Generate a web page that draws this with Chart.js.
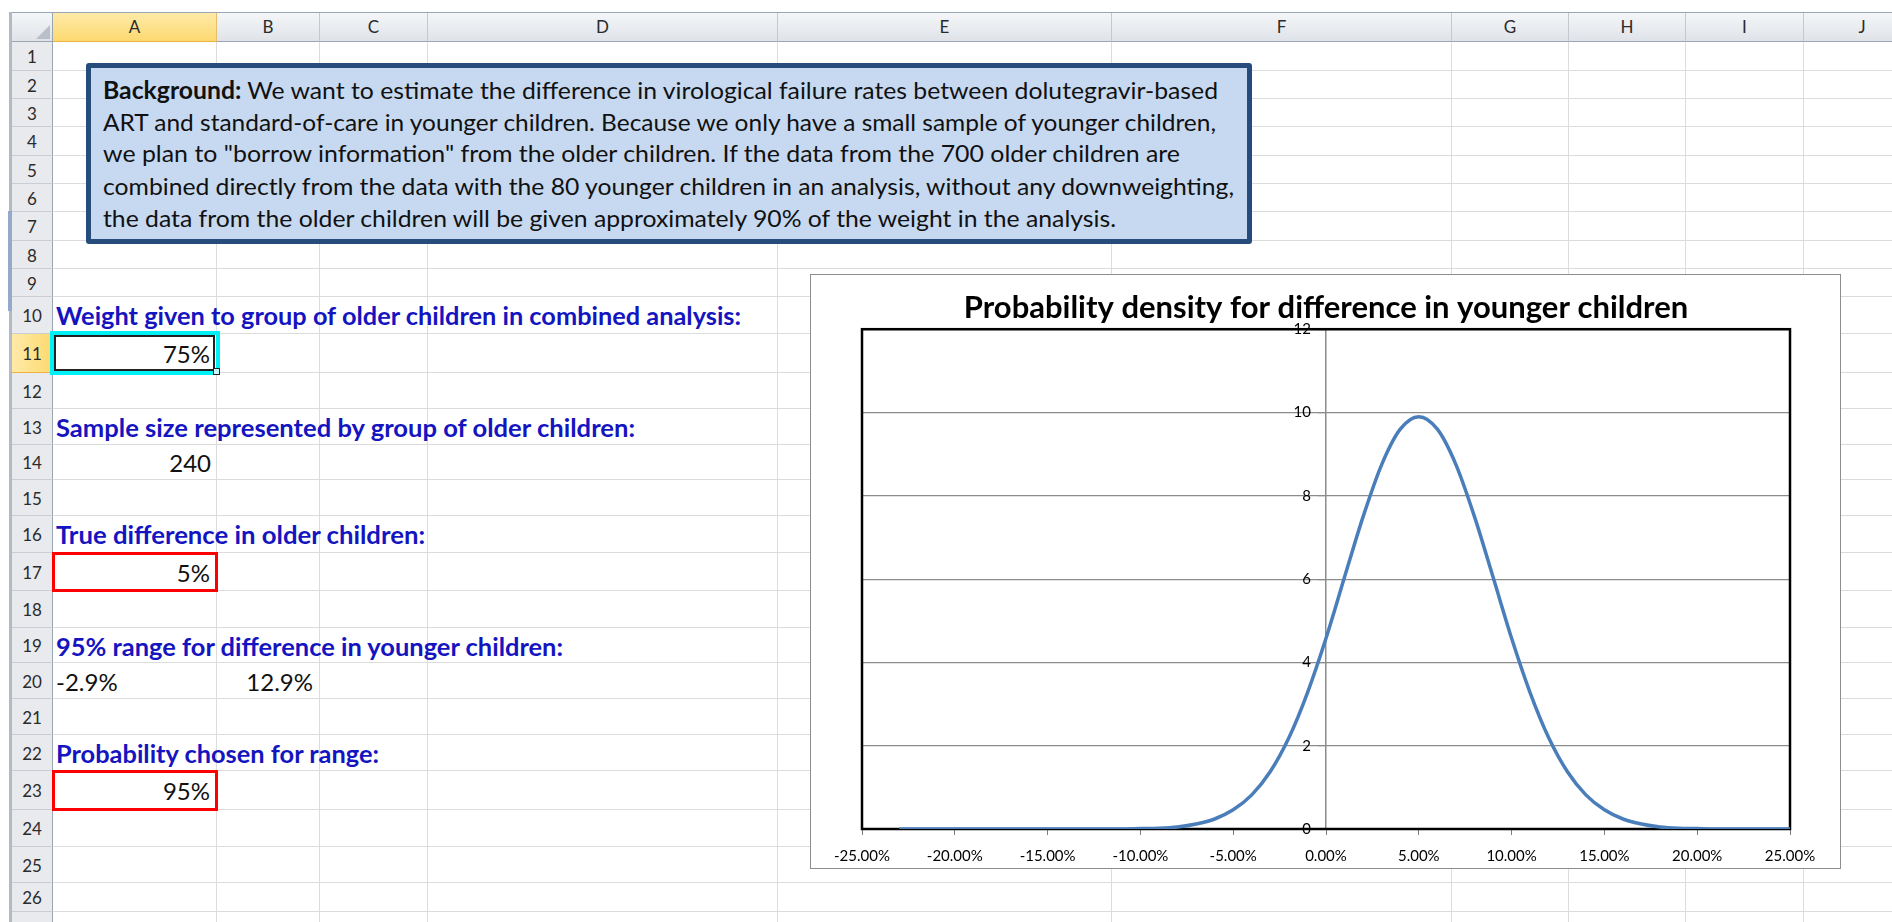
<!DOCTYPE html>
<html>
<head>
<meta charset="utf-8">
<title>Probability density for difference in younger children</title>
<script src="https://cdn.jsdelivr.net/npm/chart.js@4.4.1/dist/chart.umd.min.js"></script>
<style>
  html, body { margin: 0; padding: 0; }
  body { width: 1892px; height: 922px; overflow: hidden; position: relative; background: #fff; font-family: Lato, 'Open Sans', sans-serif; color: #111; }
  #sheet div { position: absolute; box-sizing: border-box; }
  .hdr { top: 13px; height: 29px; background: linear-gradient(#f4f6f8, #dfe3e8); border-right: 1px solid #c4c9d0; border-bottom: 1px solid #9ba6b3; font-size: 17px; color: #2b2b2b; text-align: center; line-height: 28px; }
  .hdr.sel { background: linear-gradient(#feeaa8, #fdd970); border-right: 1px solid #e6bd6a; border-bottom: 1px solid #efb043; }
  .rh { left: 12px; width: 41px; background: #e8eaee; border-right: 1px solid #9ba6b3; border-bottom: 1px solid #c9ced5; font-size: 17px; color: #2b2b2b; text-align: center; }
  .rh.sel { background: linear-gradient(90deg, #feeaa8, #fdd970); border-bottom: 1px solid #efb043; }
  .t { position: absolute; white-space: nowrap; height: 36px; line-height: 36px; font-size: 24px; }
  .lbl { font-weight: bold; color: #1414c0; left: 56px; transform-origin: left center; }
  .num { transform-origin: right center; }
  #note { position: absolute; left: 86px; top: 63px; width: 1166px; height: 181px; box-sizing: border-box; background: #c6d9f1; border: 5px solid #264c7c; border-radius: 3px; }
  .ln { position: absolute; left: 103px; white-space: nowrap; font-size: 24px; line-height: 32px; color: #111; transform-origin: left center; }
  #chartBox { position: absolute; left: 810px; top: 274px; width: 1031px; height: 595px; box-sizing: border-box; border: 1px solid #8d8d8d; background: #fff; }
</style>
</head>
<body>
<div id="sheet"></div>

<!-- window frame on the left -->
<div style="position:absolute;left:9px;top:12px;width:3px;height:910px;background:#b3bac4"></div>
<div style="position:absolute;left:8px;top:211px;width:4px;height:100px;background:#93aacb"></div>

<!-- cell formats -->
<div style="position:absolute;left:50px;top:331px;width:170px;height:44px;box-sizing:border-box;border:4px solid #00f0f8"></div>
<div style="position:absolute;left:54px;top:335px;width:161px;height:36px;box-sizing:border-box;border:2px solid #222"></div>
<div style="position:absolute;left:213px;top:368px;width:7px;height:7px;box-sizing:border-box;border:1px solid #222;background:#c8fbff"></div>
<div style="position:absolute;left:52px;top:552px;width:166px;height:40px;box-sizing:border-box;border:3px solid #ff0000"></div>
<div style="position:absolute;left:52px;top:770px;width:166px;height:41px;box-sizing:border-box;border:3px solid #ff0000"></div>

<!-- cell text -->
<div class="t lbl" style="top:298px" data-w="685">Weight given to group of older children in combined analysis:</div>
<div class="t num" style="top:336px;right:1682px">75%</div>
<div class="t lbl" style="top:410px" data-w="579">Sample size represented by group of older children:</div>
<div class="t num" style="top:445px;right:1681px">240</div>
<div class="t lbl" style="top:517px" data-w="369">True difference in older children:</div>
<div class="t num" style="top:555px;right:1682px">5%</div>
<div class="t lbl" style="top:629px" data-w="507">95% range for difference in younger children:</div>
<div class="t" style="top:664px;left:56px">-2.9%</div>
<div class="t num" style="top:664px;right:1579px">12.9%</div>
<div class="t lbl" style="top:736px" data-w="323">Probability chosen for range:</div>
<div class="t num" style="top:773px;right:1682px">95%</div>

<!-- text box -->
<div id="note"></div>
<div class="ln" style="top:74px" data-w="1115"><b>Background:</b> We want to estimate the difference in virological failure rates between dolutegravir-based</div>
<div class="ln" style="top:106px" data-w="1113">ART and standard-of-care in younger children. Because we only have a small sample of younger children,</div>
<div class="ln" style="top:137px" data-w="1077">we plan to "borrow information" from the older children. If the data from the 700 older children are</div>
<div class="ln" style="top:170px" data-w="1131">combined directly from the data with the 80 younger children in an analysis, without any downweighting,</div>
<div class="ln" style="top:202px" data-w="1013">the data from the older children will be given approximately 90% of the weight in the analysis.</div>

<div id="chartBox"><canvas id="densityChart" width="1029" height="593"></canvas></div>

<script>
// Density curve (x in %, y = density)
const diffPct = [-23, -22, -21, -20, -19, -18, -17, -16, -15, -14, -13, -12,
    -11, -10, -9, -8, -7, -6, -5, -4, -3, -2, -1, 0, 1, 2, 3, 4, 5,
    6, 7, 8, 9, 10, 11, 12, 13, 14, 15, 16, 17, 18, 19, 20, 21, 22, 23, 24, 25];
const density = [0, 0, 0, 0, 0, 0, 0, 0, 0, 0, 0, 0,
    0, 0.01, 0.02, 0.05, 0.12, 0.24, 0.46, 0.82, 1.38, 2.19, 3.27, 4.58, 6.05, 7.50, 8.75, 9.60, 9.90,
    9.60, 8.75, 7.50, 6.05, 4.58, 3.27, 2.19, 1.38, 0.82, 0.46, 0.24, 0.12, 0.05, 0.02, 0.01, 0, 0, 0, 0, 0];
const xRange = [-25, 25];
const xStep = 5;
const yRange = [0, 12];
const yStep = 2;

// Spreadsheet grid
const colNames = ['A', 'B', 'C', 'D', 'E', 'F', 'G', 'H', 'I', 'J'];
const colEdges = [53, 217, 320, 428, 778, 1112, 1452, 1569, 1686, 1804, 1921];
const rowEdges = [42, 71, 99, 127, 156, 184, 212, 241, 269, 297, 334, 373, 409, 445, 480,
    516, 553, 591, 628, 663, 699, 735, 771, 810, 847, 883, 912, 950];

const sheet = document.getElementById('sheet');
function box(css, cls, text) {
    const d = document.createElement('div');
    d.style.cssText = css;
    if (cls) d.className = cls;
    if (text) d.textContent = text;
    sheet.appendChild(d);
    return d;
}

rowEdges.forEach(y => box(`left:53px;top:${y - 1}px;width:1839px;height:1px;background:#dadcdd`));
colEdges.forEach(x => box(`left:${x - 1}px;top:42px;width:1px;height:880px;background:#dadcdd`));

box('left:12px;top:13px;width:41px;height:29px;background:linear-gradient(#f4f6f8,#dfe3e8);border-right:1px solid #9ba6b3;border-bottom:1px solid #9ba6b3');
box('left:36px;top:25px;width:0;height:0;border-left:14px solid transparent;border-bottom:14px solid #b8bfc8');
box('left:12px;top:12px;width:1880px;height:1px;background:#9ba6b3');

colNames.forEach((name, i) => {
    box(`left:${colEdges[i]}px;width:${colEdges[i + 1] - colEdges[i]}px`, i === 0 ? 'hdr sel' : 'hdr', name);
});

for (let r = 0; r < rowEdges.length - 1; r++) {
    const h = rowEdges[r + 1] - rowEdges[r];
    box(`top:${rowEdges[r]}px;height:${h}px;line-height:${h + 1}px`, r === 10 ? 'rh sel' : 'rh', String(r + 1));
}

// squeeze text to the widths in the screenshot
document.querySelectorAll('[data-w]').forEach(el => {
    const w = el.getBoundingClientRect().width;
    el.style.transform = `scaleX(${el.dataset.w / w})`;
});

// Chart
Chart.defaults.font.family = 'Lato, "Open Sans", sans-serif';

const plotFrame = {
    id: 'plotFrame',
    beforeDatasetsDraw(chart) {
        const { ctx, chartArea: a } = chart;
        ctx.save();
        ctx.strokeStyle = '#000';
        ctx.lineWidth = 2.5;
        ctx.strokeRect(a.left, a.top, a.right - a.left, a.bottom - a.top);
        ctx.restore();
    }
};

const densityChart = new Chart(document.getElementById('densityChart'), {
    type: 'line',
    data: {
        datasets: [{
            data: diffPct.map((x, i) => ({ x: x, y: density[i] })),
            borderColor: '#4a7ebb',
            borderWidth: 3.5,
            pointRadius: 0,
            cubicInterpolationMode: 'monotone',
            fill: false
        }]
    },
    options: {
        responsive: false,
        animation: false,
        devicePixelRatio: 1,
        layout: { padding: { left: 51, right: 50, top: 0, bottom: 0 } },
        plugins: {
            legend: { display: false },
            tooltip: { enabled: false },
            title: {
                display: true,
                text: 'Probability density for difference in younger children',
                color: '#000',
                font: { size: 31, weight: 'bold' },
                padding: { top: 14, bottom: 3 }
            }
        },
        scales: {
            x: {
                type: 'linear',
                min: xRange[0],
                max: xRange[1],
                ticks: {
                    stepSize: xStep,
                    autoSkip: false,
                    maxRotation: 0,
                    color: '#000',
                    font: { size: 15 },
                    padding: 12,
                    callback: v => v.toFixed(2) + '%'
                },
                grid: { drawOnChartArea: false, tickLength: 6, color: '#7f7f7f' },
                border: { display: false },
                afterFit: s => { s.height = 39; }
            },
            y: {
                min: yRange[0],
                max: yRange[1],
                position: { x: 0 },
                ticks: {
                    stepSize: yStep,
                    color: '#000',
                    font: { size: 15 },
                    callback: v => v + '\u2003 '
                },
                grid: { color: '#8c8c8c', lineWidth: 1.2, tickLength: 7 },
                border: { color: '#8c8c8c', width: 1.5 }
            }
        }
    },
    plugins: [plotFrame]
});
</script>
</body>
</html>
